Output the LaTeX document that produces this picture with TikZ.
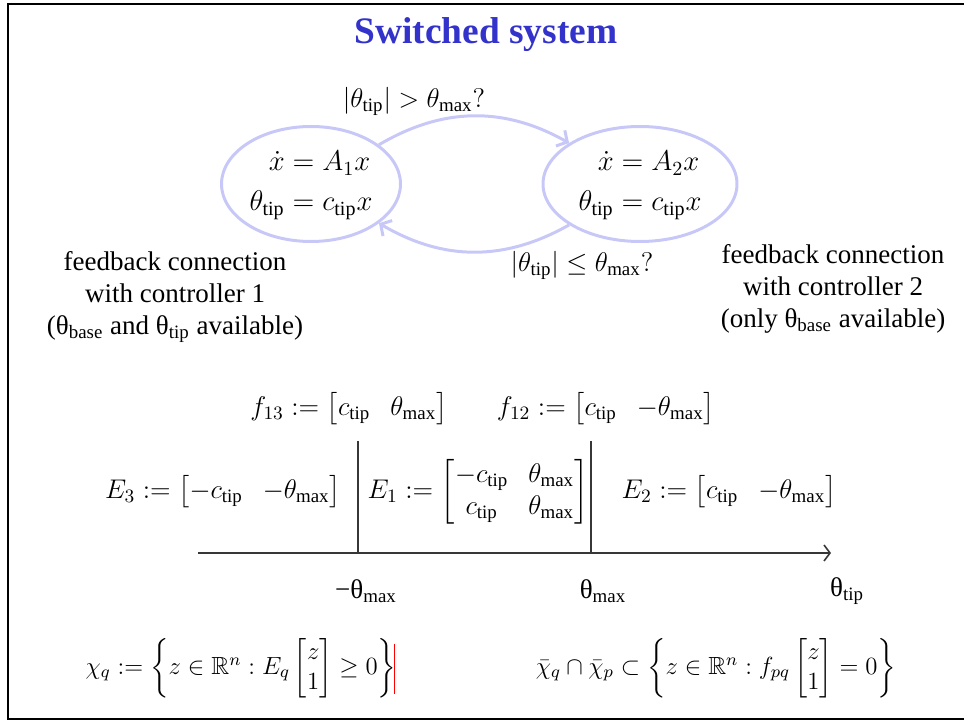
\documentclass[tikz,border=0pt]{standalone}
\usepackage{fix-cm}
\usepackage{amsmath,amssymb}
\usepackage{fontspec}
\setmainfont{Liberation Serif}
\usepackage{tikz}
\usetikzlibrary{arrows.meta,positioning,shapes.geometric}
\newcommand{\tp}{\mathrm{tip}}
\newcommand{\mx}{\mathrm{max}}
\newcommand{\thsub}[1]{θ\textsubscript{#1}}
\definecolor{titleblue}{RGB}{51,51,204}
\definecolor{statelav}{RGB}{200,200,248}
\definecolor{axisgray}{RGB}{55,55,55}
\tikzset{
  bodyfont/.style={font=\fontsize{13.5}{16}\selectfont},
  statenode/.style={ellipse,draw=statelav,line width=1.5pt,inner sep=0pt,
    minimum height=57.5pt,font=\fontsize{14.3}{17}\selectfont},
  statearrow/.style={draw=statelav,line width=1.5pt,
    -{Straight Barb[length=4pt,width=9pt]}},
  guard/.style={bodyfont,inner sep=1pt},
  note/.style={bodyfont,align=center,inner sep=1pt},
  formula/.style={bodyfont,inner sep=1pt},
  setformula/.style={font=\fontsize{12.4}{15}\selectfont,inner sep=0pt},
  axisline/.style={draw=axisgray,line width=0.8pt},
  framebox/.style={draw=black,line width=1.4pt}
}

\begin{document}
\begin{tikzpicture}[x=0.5pt,y=-0.5pt]
  \useasboundingbox (0,0) rectangle (964,721);
  \draw[framebox] (968,4) -- (8,4) -- (8,719) -- (968,719);
  \node[font=\fontsize{18.7}{22}\selectfont\bfseries,text=titleblue] (title) at (486,35) {Switched system};
  % the two modes
  \node[statenode,minimum width=89.5pt] (s1) at (311,184)
    {$\begin{aligned}\dot x &= A_1x\\ \theta_{\tp} &= c_{\tp}x\end{aligned}$};
  \node[statenode,minimum width=97pt] (s2) at (640,184)
    {$\begin{aligned}\dot x &= A_2x\\ \theta_{\tp} &= c_{\tp}x\end{aligned}$};
  \draw[statearrow] (s1) to[bend left=30] (s2);
  \draw[statearrow] (s2) to[bend left=30] (s1);
  \node[guard] (g12) at (414,101) {$|\theta_{\tp}|>\theta_{\mx}?$};
  \node[guard] (g21) at (582,265) {$|\theta_{\tp}|\le\theta_{\mx}?$};
  \node[note] (c1) at (175,297) {feedback connection\\with controller 1\\(\thsub{base} and \thsub{tip} available)};
  \node[note] (c2) at (833,289) {feedback connection\\with controller 2\\(only \thsub{base} available)};
  % regions on the theta_tip axis
  \node[formula] (f13) at (349,409) {$f_{13}:=\begin{bmatrix}c_{\tp} & \theta_{\mx}\end{bmatrix}$};
  \node[formula] (f12) at (606,409) {$f_{12}:=\begin{bmatrix}c_{\tp} & -\theta_{\mx}\end{bmatrix}$};
  \node[formula] (e3) at (223,492) {$E_3:=\begin{bmatrix}-c_{\tp} & -\theta_{\mx}\end{bmatrix}$};
  \node[formula] (e1) at (478,492) {$E_1:=\begin{bmatrix}-c_{\tp} & \theta_{\mx}\\ c_{\tp} & \theta_{\mx}\end{bmatrix}$};
  \node[formula] (e2) at (729,492) {$E_2:=\begin{bmatrix}c_{\tp} & -\theta_{\mx}\end{bmatrix}$};
  \coordinate (axL) at (198,553);
  \coordinate (axR) at (831,553);
  \coordinate (bl) at (358,553);
  \coordinate (blt) at (358,441);
  \coordinate (br) at (591,553);
  \coordinate (brt) at (591,441);
  \draw[axisline,-{Straight Barb[length=3pt,width=8pt]}] (axL) -- (axR);
  \draw[axisline] (blt) -- (bl);
  \draw[axisline] (brt) -- (br);
  \node[note] (lneg) at (366,591) {−\thsub{max}};
  \node[note] (lpos) at (603,591) {\thsub{max}};
  \node[note] (ltip) at (847,591) {\thsub{tip}};
  % mode sets
  \node[setformula] (chi) at (241,668) {$\chi_q:=\left\{z\in\mathbb{R}^n: E_q\begin{bmatrix}z\\1\end{bmatrix}\ge 0\right\}$};
  \node[setformula] (cap) at (716,668) {$\bar\chi_q\cap\bar\chi_p\subset\left\{z\in\mathbb{R}^n: f_{pq}\begin{bmatrix}z\\1\end{bmatrix}=0\right\}$};
  \draw[red,line width=0.3pt] ([xshift=-1pt,yshift=-3pt]chi.north east) -- ([xshift=-1pt,yshift=2pt]chi.south east);
\end{tikzpicture}
\end{document}
